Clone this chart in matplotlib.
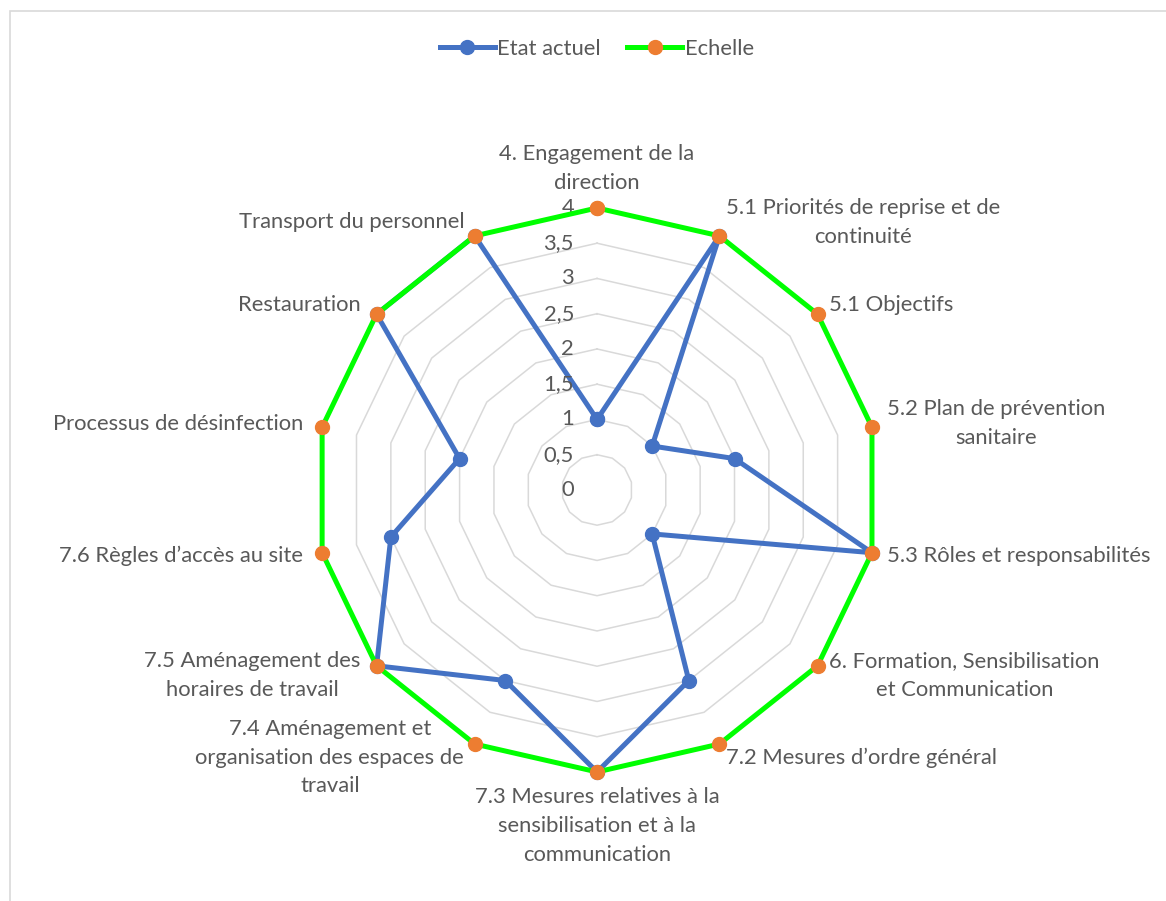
import numpy as np
import matplotlib.pyplot as plt
from matplotlib.patches import Rectangle

plt.rcParams['font.family'] = ['Lato', 'DejaVu Sans']

# données du graphique radar
categories = [
    "4. Engagement de la\ndirection",
    "5.1 Priorités de reprise et de\ncontinuité",
    "5.1 Objectifs",
    "5.2 Plan de prévention\nsanitaire",
    "5.3 Rôles et responsabilités",
    "6. Formation, Sensibilisation\net Communication",
    "7.2 Mesures d’ordre général",
    "7.3 Mesures relatives à la\nsensibilisation et à la\ncommunication",
    "7.4 Aménagement et\norganisation des espaces de\ntravail",
    "7.5 Aménagement des\nhoraires de travail",
    "7.6 Règles d’accès au site",
    "Processus de désinfection",
    "Restauration",
    "Transport du personnel",
]
etat_actuel = [1, 4, 1, 2, 4, 1, 3, 4, 3, 4, 3, 2, 4, 4]
echelle = [4, 4, 4, 4, 4, 4, 4, 4, 4, 4, 4, 4, 4, 4]
niveaux = [0, 0.5, 1, 1.5, 2, 2.5, 3, 3.5, 4]
niveaux_labels = ["0", "0,5", "1", "1,5", "2", "2,5", "3", "3,5", "4"]

gris_texte = '#595959'
fs = 15.8
n = len(categories)
theta = np.linspace(0, 2 * np.pi, n, endpoint=False)
theta_c = np.append(theta, theta[0])

fig = plt.figure(figsize=(11.66, 9.01), dpi=100)
ax = fig.add_axes([0.2702, 0.1432, 0.4837, 0.626], polar=True)
ax.set_theta_offset(np.pi / 2)
ax.set_theta_direction(-1)
ax.set_ylim(0, 4)
ax.set_axis_off()

# grille polygonale
for lvl in niveaux[1:-1]:
    ax.plot(theta_c, [lvl] * (n + 1), color='#D9D9D9', lw=1.1, zorder=1)

ax.plot(theta_c, etat_actuel + etat_actuel[:1], color='#4472C4', lw=3.6,
        marker='o', ms=10, mfc='#4472C4', mec='#4472C4', zorder=3,
        clip_on=False, solid_joinstyle='round', label='Etat actuel')
ax.plot(theta_c, echelle + echelle[:1], color='#00FF00', lw=3.6,
        marker='o', ms=10, mfc='#ED7D31', mec='#ED7D31', zorder=4,
        clip_on=False, solid_joinstyle='round', label='Echelle')

# étiquettes de l'axe radial
for lvl, lab in zip(niveaux, niveaux_labels):
    ax.annotate(lab, xy=(0, lvl), xytext=(-23, 0), textcoords='offset pixels',
                ha='right', va='center', fontsize=fs, color=gris_texte,
                annotation_clip=False)

# étiquettes des catégories
pad = 15
for a, name in zip(theta, categories):
    s, c = np.sin(a), np.cos(a)
    ha = 'left' if s > 0.1 else ('right' if s < -0.1 else 'center')
    va = 'bottom' if c > 0.99 else ('top' if c < -0.99 else 'center')
    dx = pad * s
    if s < -0.1:
        dx -= 4
    ax.annotate(name, xy=(a, 4), xytext=(dx, pad * c),
                textcoords='offset pixels', ha=ha, va=va,
                multialignment='center', linespacing=1.55, fontsize=fs,
                color=gris_texte, annotation_clip=False)

fig.legend(loc='center', bbox_to_anchor=(0.512, 0.946), ncol=2, frameon=False,
           fontsize=fs, handlelength=2.5, handletextpad=0.12, columnspacing=1.2,
           labelcolor=gris_texte)

# cadre de la zone de graphique
fig.add_artist(Rectangle((9.5 / 1166, -0.1), 1.2, 1 - 10.5 / 901 + 0.1,
                         transform=fig.transFigure, fill=False,
                         edgecolor='#D9D9D9', lw=1.2))

plt.savefig('out.png', dpi=100)
